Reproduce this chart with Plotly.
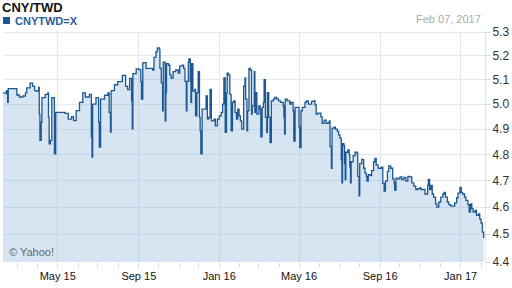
import datetime as dt
import math
import plotly.graph_objects as go

title_text = "CNY/TWD"
series_name = "CNYTWD=X"
as_of_label = "Feb 07, 2017"
credit = "© Yahoo!"
start_date = "2015-02-07"
end_date = "2017-02-07"

# days after start_date
day_offsets = [
    0, 5, 6, 7, 8, 19, 21, 25, 30, 34, 36, 41, 45, 48, 51, 54, 55, 56, 58, 59,
    64, 68, 69, 70, 72, 74, 77, 78, 80, 89, 94, 99, 104, 107, 111, 116, 121, 125, 131, 134,
    135, 136, 141, 145, 146, 148, 154, 159, 161, 163, 164, 169, 174, 181, 186, 189, 192, 195, 196, 197,
    202, 206, 209, 210, 212, 217,
    222, 227, 229, 232, 234, 237, 238, 240, 242, 243, 246, 247, 248, 251, 253, 255, 258, 262, 266, 268,
    272, 274, 276, 278, 279, 281, 282, 284, 285, 286, 288, 291, 292, 294, 296, 298, 299, 300, 302, 306,
    308, 310, 312, 314, 316, 320, 322, 325, 328, 331, 333, 335, 337, 339, 340, 342, 344, 346, 348, 350,
    352, 354, 356, 358, 360, 362, 365, 367, 368, 370, 371, 373, 375, 377, 378, 381, 382, 384, 385, 388,
    390, 391, 393, 395, 396, 398, 400, 401, 403, 405, 407, 410, 412, 415, 418, 421, 425, 426, 427, 428,
    431, 435, 437, 440, 441, 443, 447, 449, 450, 452, 454, 458, 460, 463, 466, 468, 471, 473, 475,
    478, 482, 484, 487, 490, 493, 495, 496, 498, 499, 502, 504, 507, 509, 511, 513, 514, 515, 517, 518,
    519, 520, 523, 525, 526, 527, 528, 531, 534, 537, 538, 540, 541, 544, 547, 549, 551, 552, 554, 557,
    559, 562, 564, 566, 569, 572, 574, 576, 578, 580, 583, 585, 588, 591, 593, 594, 596, 599, 602, 605,
    608, 611, 614, 617, 620, 623, 626, 629, 632, 634, 637, 640, 642, 644, 645, 647, 649, 651, 653, 656,
    658, 661, 664, 667, 669, 671, 674, 676, 679, 682, 685, 688, 690, 693, 695, 697, 700, 702, 705, 707,
    709, 711, 713, 716, 718, 721, 723, 725, 727, 729,
]

rates = [
    5.046, 5.055, 5.040, 5.007, 5.063, 5.063, 5.037, 5.029, 5.033, 5.046, 5.066, 5.086, 5.072, 5.055, 5.053, 5.068, 4.960, 4.855, 4.928, 5.026,
    5.040, 5.046, 4.947, 4.842, 4.855, 5.026, 5.026, 4.803, 4.967, 4.967, 4.963, 4.940, 4.950, 4.934, 4.974, 5.007, 5.046, 5.029, 5.040, 4.868,
    4.790, 5.000, 5.026, 4.928, 4.829, 5.020, 5.036, 5.046, 4.967, 4.888, 5.055, 5.079, 5.092, 5.118, 5.072, 5.059, 5.105, 5.013, 4.901, 5.125,
    5.145, 5.142, 5.092, 5.020, 5.171, 5.147,
    5.147, 5.140, 5.193, 5.216, 5.233, 5.227, 5.147, 5.087, 4.973, 5.173, 4.933, 5.047, 5.167, 5.160, 5.120, 5.107, 5.133, 5.140, 5.127, 5.157,
    5.160, 5.147, 5.093, 4.973, 5.093, 5.173, 5.187, 5.093, 5.007, 5.167, 5.053, 5.060, 4.953, 5.047, 5.133, 4.947, 4.893, 4.803, 4.980, 4.980,
    5.033, 4.940, 4.947, 5.060, 4.933, 4.940, 4.913, 4.940, 4.953, 4.967, 5.000, 5.107, 4.887, 5.047, 5.127, 5.120, 5.040, 4.893, 5.007, 5.013,
    4.967, 4.940, 4.980, 4.953, 4.933, 4.900, 5.073, 5.107, 5.020, 4.893, 4.973, 5.147, 5.140, 4.960, 4.993, 5.133, 4.967, 5.047, 4.960, 4.993,
    4.980, 4.869, 4.987, 5.007, 5.100, 4.947, 4.887, 5.047, 4.947, 4.847, 5.013, 5.020, 5.027, 5.020, 5.013, 5.007, 4.993, 4.947, 4.880, 5.020,
    5.013, 5.000, 5.007, 4.973, 4.853, 4.987, 4.987, 4.909, 4.827, 4.973, 4.987, 5.007, 5.013, 5.000, 5.000, 5.011, 5.013, 4.997, 4.960,
    4.964, 4.949, 4.923, 4.936, 4.923, 4.926, 4.933, 4.831, 4.747, 4.904, 4.908, 4.900, 4.891, 4.877, 4.864, 4.778, 4.691, 4.843, 4.836, 4.765,
    4.704, 4.809, 4.818, 4.800, 4.751, 4.691, 4.772, 4.796, 4.809, 4.805, 4.716, 4.642, 4.765, 4.781, 4.747, 4.728, 4.716, 4.698, 4.722, 4.719,
    4.738, 4.772, 4.785, 4.759, 4.747, 4.747, 4.751, 4.689, 4.660, 4.698, 4.735, 4.756, 4.747, 4.706, 4.691, 4.664, 4.709, 4.706, 4.714, 4.704,
    4.712, 4.698, 4.716, 4.714, 4.691, 4.679, 4.666, 4.669, 4.672, 4.666, 4.666, 4.649, 4.649, 4.682, 4.704, 4.666, 4.682, 4.649, 4.637, 4.612,
    4.600, 4.619, 4.637, 4.649, 4.655, 4.637, 4.619, 4.609, 4.604, 4.604, 4.616, 4.634, 4.652, 4.674, 4.655, 4.649, 4.637, 4.625, 4.609, 4.581,
    4.612, 4.594, 4.581, 4.588, 4.569, 4.575, 4.556, 4.541, 4.508, 4.486,
]

y_ticks = [4.4, 4.5, 4.6, 4.7, 4.8, 4.9, 5.0, 5.1, 5.2, 5.3]
x_tick_dates = ["2015-05-01", "2015-09-01", "2016-01-01", "2016-05-01", "2016-09-01", "2017-01-01"]
x_tick_labels = ["May 15", "Sep 15", "Jan 16", "May 16", "Sep 16", "Jan 17"]

base = dt.date.fromisoformat(start_date)
dates = [base + dt.timedelta(days=d) for d in day_offsets]

LINE = "#1d5892"
FONT = "Liberation Sans, Arial, sans-serif"

fig = go.Figure()
fig.add_trace(go.Scatter(
    x=dates, y=rates, mode="lines", line=dict(color=LINE, width=1.3, shape="hv"),
    fill="tozeroy", fillcolor="rgba(120,170,210,0.30)", hoverinfo="skip", showlegend=False,
))

fig.update_layout(
    width=512, height=288,
    margin=dict(l=3, r=24, t=31, b=26),
    paper_bgcolor="white", plot_bgcolor="white",
    font=dict(family=FONT, size=11, color="#333"),
    xaxis=dict(
        range=[start_date, end_date], tickvals=x_tick_dates, ticktext=x_tick_labels,
        ticks="outside", ticklen=4, tickcolor="#d0d4da", showgrid=True, gridcolor="#e4e8ef",
        gridwidth=1, zeroline=False, showline=False, tickfont=dict(size=11, color="#111"),
        minor=dict(dtick="M1", tick0="2015-01-01", ticks="outside", ticklen=4,
                   tickcolor="#d0d4da", showgrid=False),
    ),
    yaxis=dict(
        type="log", side="right", range=[math.log10(4.4), math.log10(5.305)],
        tickvals=y_ticks, ticktext=[f"{v:.1f}" for v in y_ticks],
        ticks="outside", ticklen=4, tickcolor="#d0d4da", showgrid=True, gridcolor="#e4e8ef",
        zeroline=False, showline=True, linecolor="#e0e3e8",
        tickfont=dict(size=12, color="#333"),
    ),
    annotations=[
        dict(text=f"<b>{title_text}</b>", xref="paper", yref="paper", x=0, y=1, xanchor="left",
             yanchor="middle", xshift=-3, yshift=24, showarrow=False,
             font=dict(size=13, color="#111", family=FONT)),
        dict(text=f"<b>{series_name}</b>", xref="paper", yref="paper", x=0, y=1, xanchor="left",
             yanchor="middle", xshift=10, yshift=10, showarrow=False,
             font=dict(size=11, color="#2a5e98", family=FONT)),
        dict(text=as_of_label, xref="paper", yref="paper", x=1, y=1, xanchor="right",
             yanchor="middle", xshift=-2, yshift=12, showarrow=False,
             font=dict(size=11, color="#aaaaaa", family=FONT)),
        dict(text=credit, xref="paper", yref="paper", x=0, y=0, xanchor="left",
             yanchor="bottom", xshift=4, yshift=2, showarrow=False,
             font=dict(size=11, color="#666", family=FONT)),
    ],
    shapes=[
        dict(type="rect", xref="paper", yref="paper", xsizemode="pixel", ysizemode="pixel",
             xanchor=0, yanchor=1, x0=0, x1=7, y0=7, y1=14, line=dict(width=0), fillcolor=LINE),
    ],
)

fig.write_html("out.html")
